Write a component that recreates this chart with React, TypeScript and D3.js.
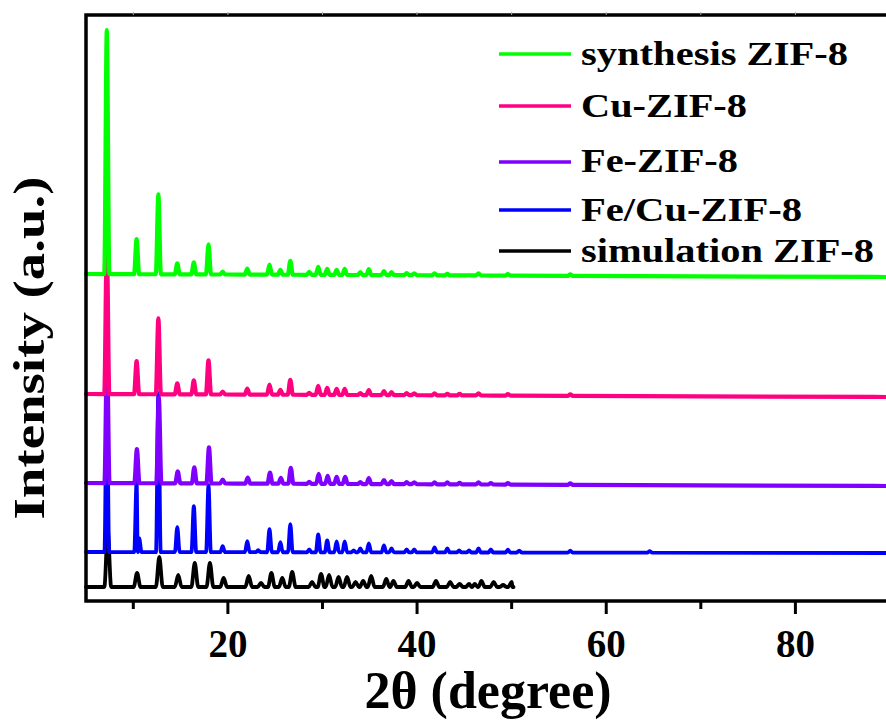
import React from "react";
import * as d3 from "d3";

const W = 886;
const H = 722;
const PLOT = { left: 86, right: 890, top: 15, bottom: 601 };

const X_DOMAIN: [number, number] = [5, 90];
const Y_DOMAIN: [number, number] = [0, 586];
const MAJOR_TICKS = [20, 40, 60, 80];
const MINOR_TICKS = [10, 30, 50, 70];

// simulation ZIF-8
const SIM_POS = [7.3, 10.4, 12.75, 14.75, 16.5, 18.1, 19.55, 22.2, 23.5, 24.6, 25.75, 26.8, 28.9, 29.85, 30.7, 31.7, 32.6, 33.5, 34.3, 35.15, 36.75, 37.5, 39.1, 40.0, 42.0, 43.5, 44.5, 45.5, 46.1, 46.8, 48.1, 49.1, 50.0];
const SIM_INT = [56, 14, 30, 12, 24, 24, 9, 11, 4, 14, 9, 15, 5, 13, 12, 10, 10, 5, 6, 11, 8, 6, 6, 4, 6, 5, 3, 3, 3, 6, 5, 2, 5];
const SIM_BASE: [number, number] = [14, 14];
const SIM_END = 50.2;

// Fe/Cu-ZIF-8
const FECU_POS = [7.2, 10.35, 10.62, 12.65, 14.65, 16.4, 17.95, 19.45, 22.05, 23.2, 24.4, 25.55, 26.6, 28.6, 29.55, 30.5, 31.5, 32.35, 33.3, 34.0, 34.9, 36.5, 37.3, 38.9, 39.7, 41.85, 43.2, 44.45, 45.5, 46.5, 47.8, 49.6, 50.8, 56.2, 64.6];
const FECU_INT = [165, 70, 14, 159, 25, 46, 67, 6, 11, 2, 23, 10, 28, 3, 18, 12, 11, 11, 2, 4, 9, 7, 4, 3, 3, 5, 4, 2, 2, 4, 3, 3, 2, 2, 1.5];
const FECU_BASE: [number, number] = [49, 48];

// Fe-ZIF-8
const FE_POS = [7.22, 10.38, 12.7, 14.7, 16.45, 18.0, 19.45, 22.1, 24.45, 25.6, 26.65, 28.6, 29.6, 30.55, 31.5, 32.4, 34.0, 34.9, 36.5, 37.3, 38.9, 39.7, 41.85, 43.2, 44.5, 46.5, 47.8, 49.6, 56.2];
const FE_INT = [130, 34, 86, 12, 16, 36, 4, 6, 11, 6, 16, 2, 10, 8, 7, 7, 2, 6, 4, 3, 2, 2, 2, 2, 1.5, 2, 1.5, 1.5, 1.5];
const FE_BASE: [number, number] = [118, 115];

// Cu-ZIF-8
const CU_POS = [7.2, 10.35, 12.65, 14.65, 16.4, 17.95, 19.45, 22.05, 24.4, 25.55, 26.6, 28.6, 29.55, 30.5, 31.5, 32.35, 34.0, 34.9, 36.5, 37.3, 38.9, 39.7, 41.85, 43.2, 44.5, 46.5, 49.6, 56.2];
const CU_INT = [150, 33, 76, 11, 14, 34, 3, 6, 10, 5, 15, 2, 9, 7, 6, 6, 2, 5, 4, 3, 2, 2, 2, 1.5, 1.5, 2, 1.5, 1.5];
const CU_BASE: [number, number] = [207, 204];

// synthesis ZIF-8
const SYN_POS = [7.2, 10.35, 12.65, 14.65, 16.4, 17.95, 19.45, 22.05, 24.4, 25.55, 26.6, 28.6, 29.55, 30.5, 31.5, 32.35, 34.0, 34.9, 36.5, 37.3, 38.9, 39.7, 41.85, 43.2, 46.5, 49.6, 56.2];
const SYN_INT = [244, 35, 80, 11, 12, 30, 3, 6, 10, 5, 14, 3, 8, 6, 5, 6, 3, 6, 4, 3, 2, 2, 2, 1.5, 2, 1.5, 1.5];
const SYN_BASE: [number, number] = [327, 324];

const LEGEND_LABELS = ["synthesis ZIF-8", "Cu-ZIF-8", "Fe-ZIF-8", "Fe/Cu-ZIF-8", "simulation ZIF-8"];
const COLORS = {
  syn: "#00ff00",
  cu: "#ff0080",
  fe: "#8000ff",
  fecu: "#0000ff",
  sim: "#000000",
};

// layout of legend rows (line y, text baseline, text width)
const LEG_LINE_Y = [54, 106, 162, 210, 251];
const LEG_TEXT_Y = [65, 117, 172, 221, 262];
const LEG_TEXT_W = [267, 166, 157, 221, 293];

const FONT = "'Liberation Serif', 'Times New Roman', Times, serif";

type Series = {
  key: string;
  color: string;
  pos: number[];
  int: number[];
  base: [number, number];
  end: number;
  hw: number;
  sw: number;
};

const SERIES: Series[] = [
  { key: "sim", color: COLORS.sim, pos: SIM_POS, int: SIM_INT, base: SIM_BASE, end: SIM_END, hw: 0.36, sw: 3.8 },
  { key: "fecu", color: COLORS.fecu, pos: FECU_POS, int: FECU_INT, base: FECU_BASE, end: 90, hw: 0.25, sw: 3.8 },
  { key: "fe", color: COLORS.fe, pos: FE_POS, int: FE_INT, base: FE_BASE, end: 90, hw: 0.27, sw: 4.2 },
  { key: "cu", color: COLORS.cu, pos: CU_POS, int: CU_INT, base: CU_BASE, end: 90, hw: 0.27, sw: 4.2 },
  { key: "syn", color: COLORS.syn, pos: SYN_POS, int: SYN_INT, base: SYN_BASE, end: 90, hw: 0.27, sw: 4.2 },
];

const xScale = d3.scaleLinear().domain(X_DOMAIN).range([PLOT.left, PLOT.right]);
const yScale = d3.scaleLinear().domain(Y_DOMAIN).range([PLOT.bottom, PLOT.top]);

function buildPoints(s: Series): [number, number][] {
  const baseAt = d3.scaleLinear().domain(X_DOMAIN).range(s.base);
  const pts: [number, number][] = [[X_DOMAIN[0], baseAt(X_DOMAIN[0])]];
  s.pos.forEach((p, i) => {
    const prev = i > 0 ? s.pos[i - 1] : X_DOMAIN[0];
    const next = i < s.pos.length - 1 ? s.pos[i + 1] : s.end;
    const l = p - Math.min(s.hw, (p - prev) * 0.45);
    const r = p + Math.min(s.hw, (next - p) * 0.45);
    pts.push([l, baseAt(l)], [p, baseAt(p) + s.int[i]], [r, baseAt(r)]);
  });
  pts.push([s.end, baseAt(s.end)]);
  return pts;
}

const line = d3
  .line<[number, number]>()
  .x((d) => xScale(d[0]))
  .y((d) => yScale(d[1]))
  .curve(d3.curveMonotoneX);

export default function App() {
  return (
    <svg
      width={W}
      height={H}
      viewBox={`0 0 ${W} ${H}`}
      style={{ position: "absolute", left: 0, top: 0, display: "block", background: "#fff" }}
    >
      <rect x={0} y={0} width={W} height={H} fill="#fff" />
      {SERIES.map((s) => (
        <path
          key={s.key}
          d={line(buildPoints(s)) || ""}
          fill="none"
          stroke={s.color}
          strokeWidth={s.sw}
          strokeLinejoin="round"
          strokeLinecap="round"
        />
      ))}
      <rect
        x={PLOT.left}
        y={PLOT.top}
        width={PLOT.right - PLOT.left}
        height={PLOT.bottom - PLOT.top}
        fill="none"
        stroke="#000"
        strokeWidth={3.5}
      />
      {[...MAJOR_TICKS, ...MINOR_TICKS].map((t) => (
        <line key={"tt" + t} x1={xScale(t)} x2={xScale(t)} y1={PLOT.top - 3} y2={PLOT.top} stroke="#aaa" strokeWidth={1} />
      ))}
      {MAJOR_TICKS.map((t) => (
        <line key={"mj" + t} x1={xScale(t)} x2={xScale(t)} y1={PLOT.bottom} y2={PLOT.bottom + 13} stroke="#000" strokeWidth={3} />
      ))}
      {MINOR_TICKS.map((t) => (
        <line key={"mn" + t} x1={xScale(t)} x2={xScale(t)} y1={PLOT.bottom} y2={PLOT.bottom + 8} stroke="#000" strokeWidth={3} />
      ))}
      {MAJOR_TICKS.map((t) => (
        <text
          key={"lb" + t}
          x={xScale(t)}
          y={657}
          textAnchor="middle"
          fontFamily={FONT}
          fontWeight="bold"
          fontSize={39}
          fill="#000"
        >
          {t}
        </text>
      ))}
      <text x={488} y={708} textAnchor="middle" fontFamily={FONT} fontWeight="bold" fontSize={52} fill="#000">
        2θ (degree)
      </text>
      <text
        transform="translate(44,348) rotate(-90)"
        textAnchor="middle"
        fontFamily={FONT}
        fontWeight="bold"
        fontSize={44}
        fill="#000"
        textLength={343}
        lengthAdjust="spacingAndGlyphs"
      >
        Intensity (a.u.)
      </text>
      {LEGEND_LABELS.map((lab, i) => {
        const c = [COLORS.syn, COLORS.cu, COLORS.fe, COLORS.fecu, COLORS.sim][i];
        return (
          <g key={lab}>
            <line x1={499} x2={571} y1={LEG_LINE_Y[i]} y2={LEG_LINE_Y[i]} stroke={c} strokeWidth={3.5} />
            <text
              x={581}
              y={LEG_TEXT_Y[i]}
              fontFamily={FONT}
              fontWeight="bold"
              fontSize={33}
              fill="#000"
              textLength={LEG_TEXT_W[i]}
              lengthAdjust="spacingAndGlyphs"
            >
              {lab}
            </text>
          </g>
        );
      })}
    </svg>
  );
}
